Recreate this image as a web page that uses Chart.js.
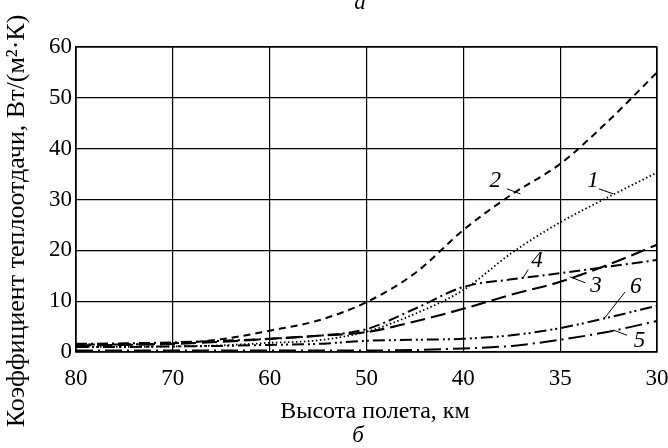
<!DOCTYPE html>
<html>
<head>
<meta charset="utf-8">
<script src="https://cdn.jsdelivr.net/npm/chart.js@4.4.1/dist/chart.umd.min.js"></script>
<style>
html,body{margin:0;padding:0;background:#fff;}
#wrap{width:668px;height:448px;position:relative;}
</style>
</head>
<body>
<div id="wrap"><canvas id="c" width="668" height="448"></canvas></div>
<script>
// Altitude tick labels (evenly spaced positions on the axis)
const altitudeLabels = ['80', '70', '60', '50', '40', '35', '30'];
// Sample positions along the axis (index units, half steps)
const positions = [0, 0.5, 1, 1.5, 2, 2.5, 3, 3.5, 4, 4.5, 5, 5.5, 6];
// Heat-transfer coefficient, W/(m²·K)
const curve1 = [1.0, 1.0, 1.1, 1.3, 1.8, 2.3, 4.0, 7.5, 12.2, 19.5, 25.5, 30.5, 35.3];
const curve2 = [1.5, 1.5, 1.7, 2.5, 4.2, 6.2, 9.8, 15.5, 24.0, 31.0, 37.0, 45.5, 55.0];
const curve3 = [1.3, 1.4, 1.6, 2.0, 2.6, 3.2, 3.9, 6.0, 8.5, 11.3, 13.8, 17.2, 21.1];
const curve4 = [1.6, 1.7, 1.9, 2.2, 2.6, 3.2, 4.5, 8.5, 12.8, 14.3, 15.5, 16.8, 18.1];
const curve5 = [0.3, 0.3, 0.3, 0.3, 0.3, 0.3, 0.3, 0.4, 0.7, 1.2, 2.4, 4.0, 6.1];
const curve6 = [1.0, 1.0, 1.1, 1.2, 1.4, 1.6, 2.2, 2.4, 2.6, 3.3, 4.7, 6.8, 9.1];
const curveNames = ['1', '2', '3', '4', '5', '6'];
// Curve number labels: text position and leader line (data coordinates)
const labelMarks = [
  {t: '2', x: 4.33, y: 33.6, lx1: 4.45, ly1: 32.1, lx2: 4.59, ly2: 31.1},
  {t: '1', x: 5.34, y: 33.6, lx1: 5.40, ly1: 32.1, lx2: 5.55, ly2: 31.1},
  {t: '4', x: 4.76, y: 18.0, lx1: 4.67, ly1: 16.2, lx2: 4.61, ly2: 14.4},
  {t: '3', x: 5.37, y: 13.0, lx1: 5.26, ly1: 13.6, lx2: 5.10, ly2: 14.8},
  {t: '6', x: 5.78, y: 12.8, lx1: 5.67, ly1: 11.8, lx2: 5.46, ly2: 6.7},
  {t: '5', x: 5.82, y: 2.2, lx1: 5.69, ly1: 3.3, lx2: 5.55, ly2: 4.3}
];

const series = [curve1, curve2, curve3, curve4, curve5, curve6];
const dashes = [
  [1.5, 2.5],
  [7, 5],
  [15, 6],
  [11, 4, 2, 4],
  [17, 5, 2, 5],
  [12, 4, 2, 3, 2, 4]
];
const widths = [1.8, 2, 2.1, 2, 2, 2];

const datasets = series.map((vals, k) => ({
  label: curveNames[k],
  data: positions.map((p, i) => ({x: p, y: vals[i]})),
  borderColor: '#000',
  borderWidth: widths[k],
  borderDash: dashes[k],
  pointRadius: 0,
  cubicInterpolationMode: 'monotone',
  fill: false
}));

const SERIF = '"Liberation Serif", "DejaVu Serif", serif';

const decor = {
  id: 'decor',
  afterDatasetsDraw(chart) {
    const ctx = chart.ctx;
    const xs = chart.scales.x, ys = chart.scales.y;
    ctx.save();
    ctx.fillStyle = '#000';
    ctx.strokeStyle = '#000';
    ctx.lineWidth = 1;
    ctx.font = 'italic 23px ' + SERIF;
    ctx.textAlign = 'center';
    ctx.textBaseline = 'middle';
    labelMarks.forEach(m => {
      ctx.fillText(m.t, xs.getPixelForValue(m.x), ys.getPixelForValue(m.y));
      ctx.beginPath();
      ctx.moveTo(xs.getPixelForValue(m.lx1), ys.getPixelForValue(m.ly1));
      ctx.lineTo(xs.getPixelForValue(m.lx2), ys.getPixelForValue(m.ly2));
      ctx.stroke();
    });
    // frame
    const a = chart.chartArea;
    ctx.lineWidth = 1.3;
    ctx.strokeRect(a.left, a.top, a.right - a.left, a.bottom - a.top);
    // titles
    ctx.font = '24px ' + SERIF;
    ctx.textBaseline = 'middle';
    ctx.fillText('Высота полета, км', 375, 412);
    ctx.font = 'italic 23px ' + SERIF;
    ctx.fillText('а', 360, 3);
    ctx.fillText('б', 358, 436);
    ctx.save();
    ctx.translate(17, 221);
    ctx.rotate(-Math.PI / 2);
    ctx.font = '26px ' + SERIF;
    ctx.fillText('Коэффициент теплоотдачи, Вт/(м²·К)', 0, 0);
    ctx.restore();
    ctx.restore();
  }
};

new Chart(document.getElementById('c'), {
  type: 'line',
  data: {datasets},
  options: {
    responsive: false,
    animation: false,
    events: [],
    layout: {padding: {left: 0, right: 11, top: 47, bottom: 0}},
    plugins: {legend: {display: false}, tooltip: {enabled: false}},
    scales: {
      x: {
        type: 'linear',
        min: 0, max: 6,
        afterFit(s) { s.height = 96; s.paddingLeft = 0; s.paddingRight = 0; },
        ticks: {
          stepSize: 1,
          padding: 13,
          color: '#000',
          font: {family: SERIF, size: 23},
          callback: v => altitudeLabels[v]
        },
        grid: {color: '#000', lineWidth: 1.2, drawTicks: false},
        border: {color: '#000', width: 1.3}
      },
      y: {
        min: 0, max: 60,
        afterFit(s) { s.width = 76; s.paddingTop = 0; s.paddingBottom = 0; },
        ticks: {
          stepSize: 10,
          padding: 4,
          color: '#000',
          font: {family: SERIF, size: 23}
        },
        grid: {color: '#000', lineWidth: 1.2, drawTicks: false},
        border: {color: '#000', width: 1.3}
      }
    }
  },
  plugins: [decor]
});
</script>
</body>
</html>
